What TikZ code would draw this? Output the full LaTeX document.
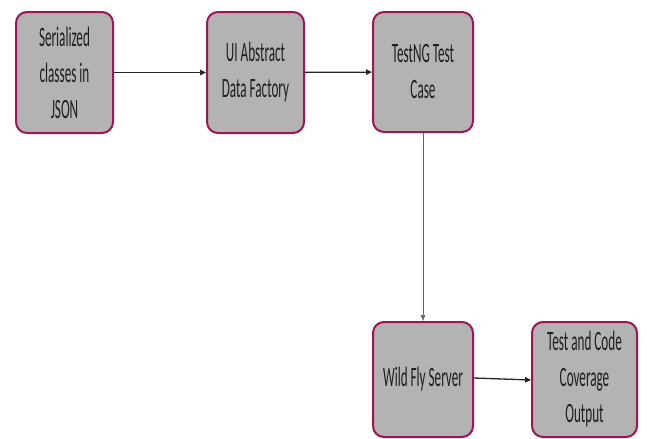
\documentclass[tikz,border=0pt]{standalone}
\usepackage{fontspec}
\setmainfont{Carlito}[FakeStretch=0.47]
\usetikzlibrary{arrows.meta}
\definecolor{boxfill}{HTML}{B3B3B3}
\definecolor{boxline}{HTML}{9E1457}
\definecolor{txt}{HTML}{1E1E1E}
\tikzset{
  stepbox/.style={draw=boxline, line width=2pt, fill=boxfill, rounded corners=11pt,
    align=center, text=txt, inner sep=0pt, font=\fontsize{28}{36}\selectfont},
  conn/.style={draw=black!85, line width=1.3pt, -{Triangle[length=6pt,width=5.5pt]}},
  connthin/.style={draw=black!60, line width=0.7pt, -{Triangle[length=6pt,width=4.5pt]}}
}
\begin{document}
\begin{tikzpicture}[x=1pt,y=1pt]
\useasboundingbox (0,0) rectangle (648,-439);
\node[stepbox, minimum width=97pt, minimum height=121pt] (a) at (64.5,-72.5) {Serialized\\classes in\\JSON};
\node[stepbox, minimum width=97pt, minimum height=121pt] (b) at (255.5,-72.5) {UI Abstract\\Data Factory};
\node[stepbox, minimum width=100pt, minimum height=120pt] (c) at (423,-72) {TestNG Test\\Case};
\node[stepbox, minimum width=100pt, minimum height=115pt] (d) at (423,-379.5) {Wild Fly Server};
\node[stepbox, minimum width=105pt, minimum height=115pt] (e) at (584.5,-379.5) {Test and Code\\Coverage\\Output};
\draw[conn] (a) -- (b);
\draw[conn] (b) -- (c);
\draw[connthin] (c) -- (d);
\draw[conn] (d.east |- 0,-378) -- (e.west |- 0,-380);
\end{tikzpicture}
\end{document}
